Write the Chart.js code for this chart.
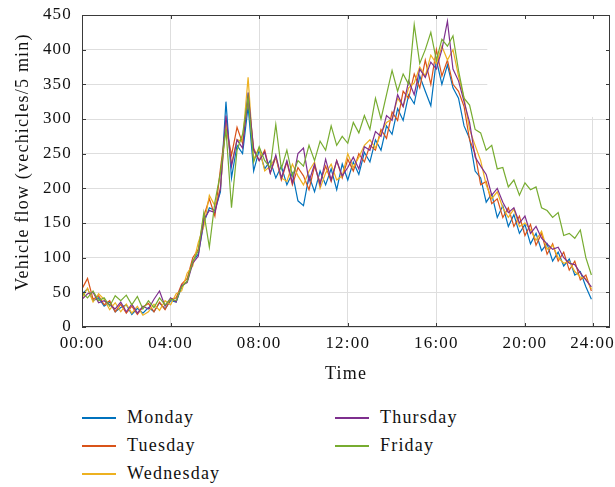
<!DOCTYPE html>
<html>
<head>
<meta charset="utf-8">
<script src="https://cdn.jsdelivr.net/npm/chart.js@4.4.1/dist/chart.umd.min.js"></script>
<style>
  html, body { margin: 0; padding: 0; background: #fff; }
  #wrap { position: relative; width: 615px; height: 487px; overflow: hidden; }
  #plot { position: absolute; left: 0; top: 0; width: 615px; height: 390px; }
  #leyenda { position: absolute; left: 0; top: 390px; width: 615px; height: 97px;
             font-family: 'Liberation Serif', 'Times New Roman', Times, serif; font-size: 18px; letter-spacing: 1.2px; color: #111; }
  .item { position: absolute; height: 28px; line-height: 28px; white-space: nowrap; }
  .item i { position: absolute; left: 0; top: 14px; width: 34px; height: 1.5px; }
  .item span { position: absolute; left: 45px; top: 0; }
</style>
</head>
<body>
<div id="wrap">
  <div id="plot"><canvas id="flujo"></canvas></div>
  <div id="leyenda"></div>
</div>
<script>
// Muestras cada 15 minutos, de 00:00 a 23:00 (una fila por hora)
const pasoHoras = 0.25;

const dias = ['Monday', 'Tuesday', 'Wednesday', 'Thursday', 'Friday'];
const colores = ['#0072BD', '#D95319', '#EDB120', '#7E2F8E', '#77AC30'];

const lunes = [
  48, 55, 38, 42,   30, 36, 22, 28,   32, 18, 27, 20,   28, 22, 35, 26,
  38, 36, 58, 66,   95, 105, 150, 172,   168, 195, 325, 215,   262, 250, 318, 225,
  255, 228, 240, 215,   232, 205, 222, 182,   175, 218, 195, 225,   205, 228, 198, 235,
  212, 238, 220, 252,   238, 270, 255, 290,   278, 315, 298, 335,   322, 362, 340, 319,
  385, 350, 378, 345,   330, 290, 272, 225,   215, 180, 192, 158,   175, 145, 162, 135,
  148, 120, 135, 110,   120, 95, 108, 88,   98, 75, 80, 58,   40
];
const martes = [
  55, 70, 40, 45,   32, 38, 22, 33,   20, 30, 18, 29,   34, 22, 36, 25,
  40, 42, 62, 70,   100, 112, 160, 185,   160, 228, 290, 248,   288, 265, 330, 258,
  240, 255, 222, 245,   212, 238, 205, 230,   218, 198, 232, 208,   232, 210, 240, 215,
  242, 225, 250, 238,   262, 255, 285, 272,   310, 298, 340, 330,   365, 345, 385, 350,
  400, 362, 385, 350,   340, 318, 270, 250,   205, 210, 178, 185,   158, 172, 145, 160,
  132, 148, 118, 135,   105, 120, 95, 108,   82, 95, 68, 75,   52
];
const miercoles = [
  42, 56, 36, 48,   40, 25, 35, 22,   33, 20, 30, 17,   22, 33, 24, 38,
  32, 48, 52, 78,   88, 122, 145, 190,   175, 200, 295, 235,   270, 268, 360, 242,
  258, 225, 232, 245,   215, 210, 235, 218,   205, 225, 238, 200,   222, 235, 212, 218,
  250, 230, 245, 262,   270, 258, 280, 295,   300, 330, 318, 345,   352, 375, 362, 392,
  380, 405, 385, 400,   362, 330, 285, 262,   240, 205, 185, 195,   172, 158, 170, 145,
  150, 140, 125, 138,   112, 118, 100, 92,   95, 80, 72, 70,   55
];
const jueves = [
  40, 48, 50, 35,   38, 32, 26, 36,   22, 33, 20, 30,   26, 40, 52, 30,
  42, 36, 60, 64,   92, 102, 155, 168,   165, 200, 305, 232,   270, 258, 338, 255,
  240, 252, 222, 248,   215, 240, 208, 250,   258, 210, 235, 205,   242, 212, 240, 218,
  230, 245, 228, 260,   255, 282, 275, 305,   298, 335, 318, 355,   335, 372, 360, 382,
  372, 400, 441, 372,   355, 325, 295, 245,   232, 220, 190, 200,   180, 165, 172, 150,
  160, 135, 145, 128,   120, 112, 115, 100,   92, 90, 78, 68,   58
];
const viernes = [
  50, 42, 52, 38,   42, 30, 45, 38,   46, 32, 44, 26,   38, 28, 42, 32,
  40, 38, 58, 66,   95, 110, 165, 115,   180, 222, 285, 172,   255, 278, 332, 238,
  260, 240, 230, 292,   228, 255, 218, 240,   232, 262, 240, 268,   255, 290, 262, 275,
  265, 295, 280, 305,   285, 330, 300, 335,   370, 340, 365, 350,   436, 380, 400, 425,
  385, 415, 405, 420,   370, 330, 320, 285,   280, 255, 262, 228,   230, 202, 212, 190,
  208, 198, 202, 172,   168, 158, 165, 132,   135, 128, 140, 100,   75
];
const series = [lunes, martes, miercoles, jueves, viernes];

// Marcas del eje de tiempo (horas) y sus etiquetas
const marcasHora = [0, 4, 8, 12, 16, 20, 23.05];
const etiquetasHora = ['00:00', '04:00', '08:00', '12:00', '16:00', '20:00', '24:00'];
const horaMax = 23.84;

const flujoMax = 450;
const flujoPaso = 50;

// Recuadro en blanco de la esquina superior derecha (desde esta hora y este flujo hacia arriba)
const recuadro = { hora: 18.3, flujo: 303 };

const fuente = "'Liberation Serif', 'Times New Roman', Times, serif";
const tinta = '#111';

const datasets = series.map((valores, i) => ({
  label: dias[i],
  data: valores.map((v, k) => ({ x: k * pasoHoras, y: v })),
  borderColor: colores[i],
  borderWidth: 1.2,
  pointRadius: 0,
  tension: 0,
  fill: false,
  order: series.length - 1 - i
}));

// Marco con marcas hacia dentro, recuadro en blanco y títulos de los ejes
const marco = {
  id: 'marco',
  beforeUpdate(chart) { chart.ctx.letterSpacing = '1.2px'; },
  beforeDraw(chart) { chart.ctx.letterSpacing = '1.2px'; },
  beforeDatasetsDraw(chart) {
    const { ctx, chartArea: a, scales: { x, y } } = chart;
    const x0 = x.getPixelForValue(recuadro.hora);
    const y1 = y.getPixelForValue(recuadro.flujo);
    ctx.save();
    ctx.fillStyle = '#fff';
    ctx.fillRect(x0, a.top + 1, a.right - x0 - 1, y1 - a.top - 1);
    ctx.restore();
  },
  afterDatasetsDraw(chart) {
    const { ctx, chartArea: a, scales: { x, y } } = chart;
    const largo = 4;
    ctx.save();
    ctx.strokeStyle = '#3a3a3a';
    ctx.lineWidth = 1;
    ctx.strokeRect(Math.round(a.left) + 0.5, Math.round(a.top) + 0.5,
                   Math.round(a.width) - 1, Math.round(a.height) - 1);
    ctx.beginPath();
    marcasHora.forEach(h => {
      const px = Math.round(x.getPixelForValue(h)) + 0.5;
      ctx.moveTo(px, a.bottom); ctx.lineTo(px, a.bottom - largo);
      ctx.moveTo(px, a.top); ctx.lineTo(px, a.top + largo);
    });
    for (let v = 0; v <= flujoMax; v += flujoPaso) {
      const py = Math.round(y.getPixelForValue(v)) + 0.5;
      ctx.moveTo(a.left, py); ctx.lineTo(a.left + largo, py);
      ctx.moveTo(a.right, py); ctx.lineTo(a.right - largo, py);
    }
    ctx.stroke();
    ctx.restore();
  },
  afterDraw(chart) {
    const { ctx, chartArea: a } = chart;
    ctx.save();
    ctx.letterSpacing = '1.2px';
    ctx.font = `18px ${fuente}`;
    ctx.fillStyle = tinta;
    ctx.textAlign = 'center';
    ctx.textBaseline = 'middle';
    ctx.fillText('Time', (a.left + a.right) / 2, 374);
    ctx.translate(23, 162);
    ctx.rotate(-Math.PI / 2);
    ctx.fillText('Vehicle flow (vechicles/5 min)', 0, 0);
    ctx.restore();
  }
};

const grafico = new Chart(document.getElementById('flujo'), {
  type: 'line',
  data: { datasets },
  options: {
    responsive: true,
    maintainAspectRatio: false,
    animation: false,
    layout: { padding: { top: 15, right: 5, bottom: 0, left: 0 } },
    plugins: { legend: { display: false }, tooltip: { enabled: false } },
    scales: {
      x: {
        type: 'linear',
        min: 0,
        max: horaMax,
        afterBuildTicks: scale => { scale.ticks = marcasHora.map(h => ({ value: h })); },
        afterFit: scale => { scale.height = 63; scale.paddingLeft = 0; scale.paddingRight = 0; },
        ticks: {
          autoSkip: false,
          maxRotation: 0,
          padding: 6,
          color: tinta,
          font: { family: fuente, size: 17 },
          callback: (v, i) => etiquetasHora[i]
        },
        grid: { color: '#dedede', lineWidth: 1, drawTicks: false },
        border: { display: false }
      },
      y: {
        min: 0,
        max: flujoMax,
        afterFit: scale => { scale.width = 82; scale.paddingTop = 0; scale.paddingBottom = 0; },
        ticks: {
          stepSize: flujoPaso,
          padding: 10,
          color: tinta,
          font: { family: fuente, size: 17 }
        },
        grid: { color: '#dedede', lineWidth: 1, drawTicks: false },
        border: { display: false }
      }
    }
  },
  plugins: [marco]
});

// Leyenda en dos columnas: lunes a miércoles, jueves y viernes
const leyenda = document.getElementById('leyenda');
const columnas = [82, 335];
grafico.data.datasets.forEach((ds, i) => {
  const col = i < 3 ? 0 : 1;
  const fila = i < 3 ? i : i - 3;
  const item = document.createElement('div');
  item.className = 'item';
  item.style.left = columnas[col] + 'px';
  item.style.top = (13 + fila * 28) + 'px';
  const trazo = document.createElement('i');
  trazo.style.background = ds.borderColor;
  const texto = document.createElement('span');
  texto.textContent = ds.label;
  item.appendChild(trazo);
  item.appendChild(texto);
  leyenda.appendChild(item);
});
</script>
</body>
</html>
